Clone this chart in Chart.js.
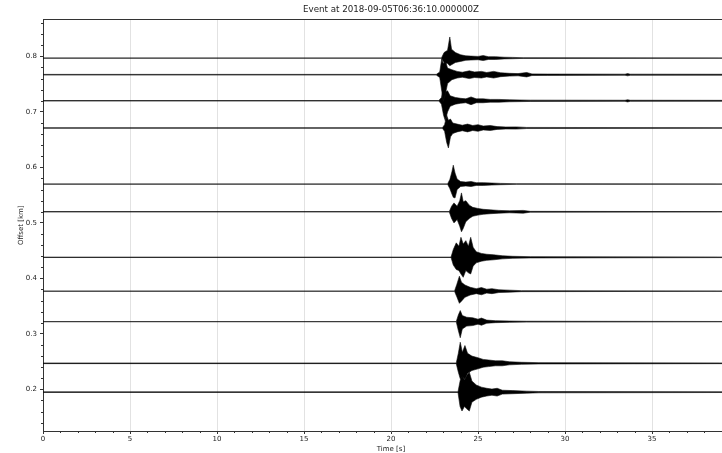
<!DOCTYPE html>
<html>
<head>
<meta charset="utf-8">
<script src="https://cdn.jsdelivr.net/npm/chart.js@4.4.1/dist/chart.umd.min.js"></script>
<style>
  html, body { margin: 0; padding: 0; background: #fff; overflow: hidden; }
  #wrap { width: 722px; height: 453px; overflow: hidden; }
</style>
</head>
<body>
<div id="wrap">
  <canvas id="sectionChart" width="780" height="453"></canvas>
</div>
<script>
// record section values
// trace baseline offsets [km]
const traceOffsets = [0.797, 0.767, 0.720, 0.671, 0.570, 0.520, 0.438, 0.377, 0.322, 0.247, 0.195];

// envelope of each trace: [time s, amplitude above, amplitude below] in km
const trace1 = [[0, 0.0003, 0.0003], [22.9, 0.0003, 0.0003], [23.05, 0.010, 0.008], [23.25, 0.014, 0.010], [23.38, 0.038, 0.014], [23.48, 0.016, 0.012], [23.7, 0.010, 0.008], [24.0, 0.006, 0.006], [24.3, 0.004, 0.004], [24.6, 0.0035, 0.0035], [25.0, 0.003, 0.003], [25.3, 0.0045, 0.0045], [25.6, 0.0025, 0.0025], [26.0, 0.0025, 0.0025], [26.5, 0.0015, 0.0015], [27.0, 0.0012, 0.0012], [27.6, 0.0006, 0.0006], [40, 0.0003, 0.0003]];
const trace2 = [[0, 0.0006, 0.0006], [22.6, 0.0006, 0.0006], [22.8, 0.005, 0.005], [22.92, 0.029, 0.030], [23.0, 0.020, 0.048], [23.12, 0.026, 0.036], [23.25, 0.012, 0.016], [23.5, 0.009, 0.009], [23.8, 0.006, 0.006], [24.1, 0.0045, 0.0045], [24.5, 0.007, 0.007], [24.8, 0.005, 0.005], [25.2, 0.006, 0.006], [25.5, 0.004, 0.004], [25.9, 0.006, 0.006], [26.3, 0.0035, 0.0035], [26.8, 0.0025, 0.0025], [27.3, 0.002, 0.002], [27.8, 0.004, 0.004], [28.1, 0.0015, 0.0015], [29.0, 0.0012, 0.0012], [33.45, 0.001, 0.001], [33.6, 0.002, 0.002], [33.75, 0.001, 0.001], [40, 0.0008, 0.0008]];
const trace3 = [[0, 0.0005, 0.0005], [22.75, 0.0005, 0.0005], [22.9, 0.006, 0.006], [23.02, 0.025, 0.026], [23.12, 0.016, 0.036], [23.25, 0.018, 0.020], [23.4, 0.009, 0.010], [23.7, 0.006, 0.006], [24.0, 0.0045, 0.0045], [24.3, 0.0035, 0.0035], [24.6, 0.007, 0.007], [24.9, 0.0035, 0.0035], [25.3, 0.0035, 0.0035], [25.7, 0.0025, 0.0025], [26.2, 0.0025, 0.0025], [26.8, 0.0018, 0.0018], [28.0, 0.0012, 0.0012], [33.45, 0.001, 0.001], [33.6, 0.002, 0.002], [33.75, 0.001, 0.001], [40, 0.0008, 0.0008]];
const trace4 = [[0, 0.0004, 0.0004], [22.95, 0.0004, 0.0004], [23.08, 0.006, 0.006], [23.2, 0.023, 0.026], [23.3, 0.014, 0.036], [23.42, 0.016, 0.016], [23.55, 0.009, 0.010], [23.8, 0.007, 0.007], [24.1, 0.005, 0.005], [24.4, 0.007, 0.007], [24.7, 0.0045, 0.0045], [25.0, 0.006, 0.006], [25.3, 0.0035, 0.0035], [25.7, 0.0045, 0.0045], [26.1, 0.0025, 0.0025], [26.6, 0.0018, 0.0018], [27.2, 0.002, 0.002], [27.8, 0.001, 0.001], [40, 0.0005, 0.0005]];
const trace5 = [[0, 0.0003, 0.0003], [23.25, 0.0003, 0.0003], [23.38, 0.008, 0.008], [23.5, 0.022, 0.018], [23.58, 0.034, 0.024], [23.68, 0.020, 0.025], [23.8, 0.009, 0.010], [24.0, 0.0045, 0.0045], [24.3, 0.0035, 0.0035], [24.6, 0.0045, 0.0045], [24.9, 0.0025, 0.0025], [25.3, 0.0025, 0.0025], [25.8, 0.0018, 0.0018], [26.3, 0.0012, 0.0012], [27.2, 0.0006, 0.0006], [40, 0.0003, 0.0003]];
const trace6 = [[0, 0.0003, 0.0003], [23.35, 0.0003, 0.0003], [23.48, 0.010, 0.012], [23.62, 0.016, 0.020], [23.8, 0.010, 0.014], [23.95, 0.020, 0.026], [24.05, 0.034, 0.036], [24.15, 0.018, 0.030], [24.3, 0.020, 0.018], [24.5, 0.012, 0.012], [24.7, 0.008, 0.008], [25.0, 0.006, 0.006], [25.3, 0.0045, 0.0045], [25.7, 0.0035, 0.0035], [26.2, 0.0025, 0.0025], [26.8, 0.0018, 0.0018], [27.6, 0.0025, 0.0025], [28.0, 0.0008, 0.0008], [40, 0.0003, 0.0003]];
const trace7 = [[0, 0.0004, 0.0004], [23.45, 0.0004, 0.0004], [23.58, 0.014, 0.014], [23.75, 0.026, 0.022], [23.9, 0.020, 0.024], [24.02, 0.036, 0.030], [24.15, 0.024, 0.036], [24.3, 0.030, 0.024], [24.45, 0.020, 0.028], [24.58, 0.036, 0.030], [24.72, 0.018, 0.016], [24.9, 0.010, 0.010], [25.2, 0.007, 0.007], [25.5, 0.0055, 0.0055], [25.9, 0.0045, 0.0045], [26.4, 0.0028, 0.0028], [27.0, 0.0018, 0.0018], [28.0, 0.0012, 0.0012], [40, 0.0005, 0.0005]];
const trace8 = [[0, 0.0003, 0.0003], [23.65, 0.0003, 0.0003], [23.78, 0.012, 0.010], [23.93, 0.027, 0.022], [24.05, 0.016, 0.018], [24.25, 0.011, 0.011], [24.55, 0.007, 0.007], [24.9, 0.0045, 0.0045], [25.2, 0.0065, 0.0065], [25.5, 0.0035, 0.0035], [25.8, 0.0045, 0.0045], [26.2, 0.0025, 0.0025], [26.8, 0.0018, 0.0018], [27.5, 0.0009, 0.0009], [40, 0.0003, 0.0003]];
const trace9 = [[0, 0.0003, 0.0003], [23.75, 0.0003, 0.0003], [23.87, 0.012, 0.016], [23.98, 0.020, 0.029], [24.1, 0.011, 0.013], [24.35, 0.008, 0.008], [24.7, 0.007, 0.007], [25.0, 0.0045, 0.0045], [25.2, 0.0065, 0.0065], [25.5, 0.0028, 0.0028], [26.0, 0.0018, 0.0018], [26.8, 0.0012, 0.0012], [27.8, 0.0008, 0.0008], [40, 0.0003, 0.0003]];
const trace10 = [[0, 0.0006, 0.0006], [23.75, 0.0006, 0.0006], [23.87, 0.018, 0.016], [23.98, 0.038, 0.028], [24.1, 0.020, 0.024], [24.25, 0.032, 0.029], [24.4, 0.018, 0.018], [24.65, 0.013, 0.013], [25.0, 0.010, 0.010], [25.3, 0.007, 0.007], [25.6, 0.006, 0.006], [26.0, 0.0045, 0.0045], [26.4, 0.0045, 0.0045], [26.8, 0.0028, 0.0028], [27.5, 0.0018, 0.0018], [28.5, 0.0012, 0.0012], [40, 0.0006, 0.0006]];
const trace11 = [[0, 0.0006, 0.0006], [23.85, 0.0006, 0.0006], [23.97, 0.020, 0.026], [24.08, 0.034, 0.034], [24.22, 0.022, 0.026], [24.35, 0.030, 0.030], [24.5, 0.036, 0.034], [24.65, 0.020, 0.018], [24.9, 0.013, 0.013], [25.2, 0.009, 0.009], [25.5, 0.007, 0.007], [25.8, 0.0055, 0.0055], [26.1, 0.007, 0.007], [26.4, 0.0035, 0.0035], [27.0, 0.0028, 0.0028], [27.8, 0.0018, 0.0018], [28.5, 0.0012, 0.0012], [40, 0.0006, 0.0006]];

const traces = [trace1, trace2, trace3, trace4, trace5, trace6, trace7, trace8, trace9, trace10, trace11];

const timeTicks = [0, 5, 10, 15, 20, 25, 30, 35, 40];
const offsetTicks = [0.2, 0.3, 0.4, 0.5, 0.6, 0.7, 0.8];
const titleText = 'Event at 2018-09-05T06:36:10.000000Z';

const axisColor = '#333';
const fontFamily = '"DejaVu Sans", sans-serif';

// each trace becomes an upper and a lower line, filled between
const datasets = [];
traces.forEach((tr, i) => {
    const base = traceOffsets[i];
    datasets.push({
        data: tr.map(p => ({ x: p[0], y: base + p[1] })),
        borderColor: '#111',
        borderWidth: 0.6,
        pointRadius: 0,
        fill: false
    });
    datasets.push({
        data: tr.map(p => ({ x: p[0], y: base - p[2] })),
        borderColor: '#111',
        borderWidth: 0.6,
        pointRadius: 0,
        backgroundColor: '#000',
        fill: '-1'
    });
});

// frame on top and minor ticks like matplotlib
const framePlugin = {
    id: 'frame',
    afterDraw(chart) {
        const { ctx, chartArea } = chart;
        const xs = chart.scales.x;
        const ys = chart.scales.y;
        ctx.save();
        ctx.strokeStyle = axisColor;
        ctx.lineWidth = 1;
        ctx.beginPath();
        ctx.moveTo(chartArea.left, Math.round(chartArea.top) + 0.5);
        ctx.lineTo(chartArea.right, Math.round(chartArea.top) + 0.5);
        ctx.moveTo(Math.round(chartArea.right) - 0.5, chartArea.top);
        ctx.lineTo(Math.round(chartArea.right) - 0.5, chartArea.bottom);
        for (let t = xs.min; t <= xs.max; t += 1) {
            if (t % 5 === 0) continue;
            const px = Math.round(xs.getPixelForValue(t)) + 0.5;
            ctx.moveTo(px, chartArea.bottom);
            ctx.lineTo(px, chartArea.bottom + 2);
        }
        for (let k = Math.ceil(ys.min * 50); k <= ys.max * 50; k++) {
            if (k % 5 === 0) continue;
            const py = Math.round(ys.getPixelForValue(k / 50)) + 0.5;
            ctx.moveTo(chartArea.left - 2, py);
            ctx.lineTo(chartArea.left, py);
        }
        ctx.stroke();
        ctx.restore();
    }
};

function renderChart() {
    new Chart(document.getElementById('sectionChart'), {
        type: 'line',
        data: { datasets: datasets },
        plugins: [framePlugin],
        options: {
            responsive: false,
            animation: false,
            devicePixelRatio: 1,
            layout: { padding: { left: 0, right: 41, top: 0, bottom: 0 } },
            elements: { line: { tension: 0 } },
            plugins: {
                legend: { display: false },
                tooltip: { enabled: false },
                title: {
                    display: true,
                    fullSize: false,
                    text: titleText,
                    color: '#222',
                    font: { family: fontFamily, size: 8.7, weight: 'normal' },
                    padding: { top: 5, bottom: 4 }
                }
            },
            scales: {
                x: {
                    type: 'linear',
                    min: 0,
                    max: 40,
                    afterBuildTicks: (scale) => {
                        scale.ticks = timeTicks.map(v => ({ value: v }));
                    },
                    afterFit: (scale) => { scale.height = 22; },
                    ticks: {
                        color: '#222',
                        font: { family: fontFamily, size: 7 },
                        padding: 1,
                        maxRotation: 0
                    },
                    grid: {
                        color: '#e2e2e2',
                        lineWidth: 1,
                        tickColor: axisColor,
                        tickLength: 3
                    },
                    border: { display: true, color: axisColor, width: 1 },
                    title: {
                        display: true,
                        text: 'Time [s]',
                        color: '#222',
                        font: { family: fontFamily, size: 7 },
                        padding: { top: 0, bottom: 0 }
                    }
                },
                y: {
                    type: 'linear',
                    min: 0.125,
                    max: 0.8666,
                    afterBuildTicks: (scale) => {
                        scale.ticks = offsetTicks.map(v => ({ value: v }));
                    },
                    afterFit: (scale) => { scale.width = 43; },
                    ticks: {
                        color: '#222',
                        font: { family: fontFamily, size: 7 },
                        padding: 3,
                        callback: (v) => v.toFixed(1)
                    },
                    grid: {
                        drawOnChartArea: false,
                        tickColor: axisColor,
                        tickLength: 3
                    },
                    border: { display: true, color: axisColor, width: 1 },
                    title: {
                        display: true,
                        text: 'Offset [km]',
                        color: '#222',
                        font: { family: fontFamily, size: 7 },
                        padding: { top: 17, bottom: 0 }
                    }
                }
            }
        }
    });
}

renderChart();
</script>
</body>
</html>
